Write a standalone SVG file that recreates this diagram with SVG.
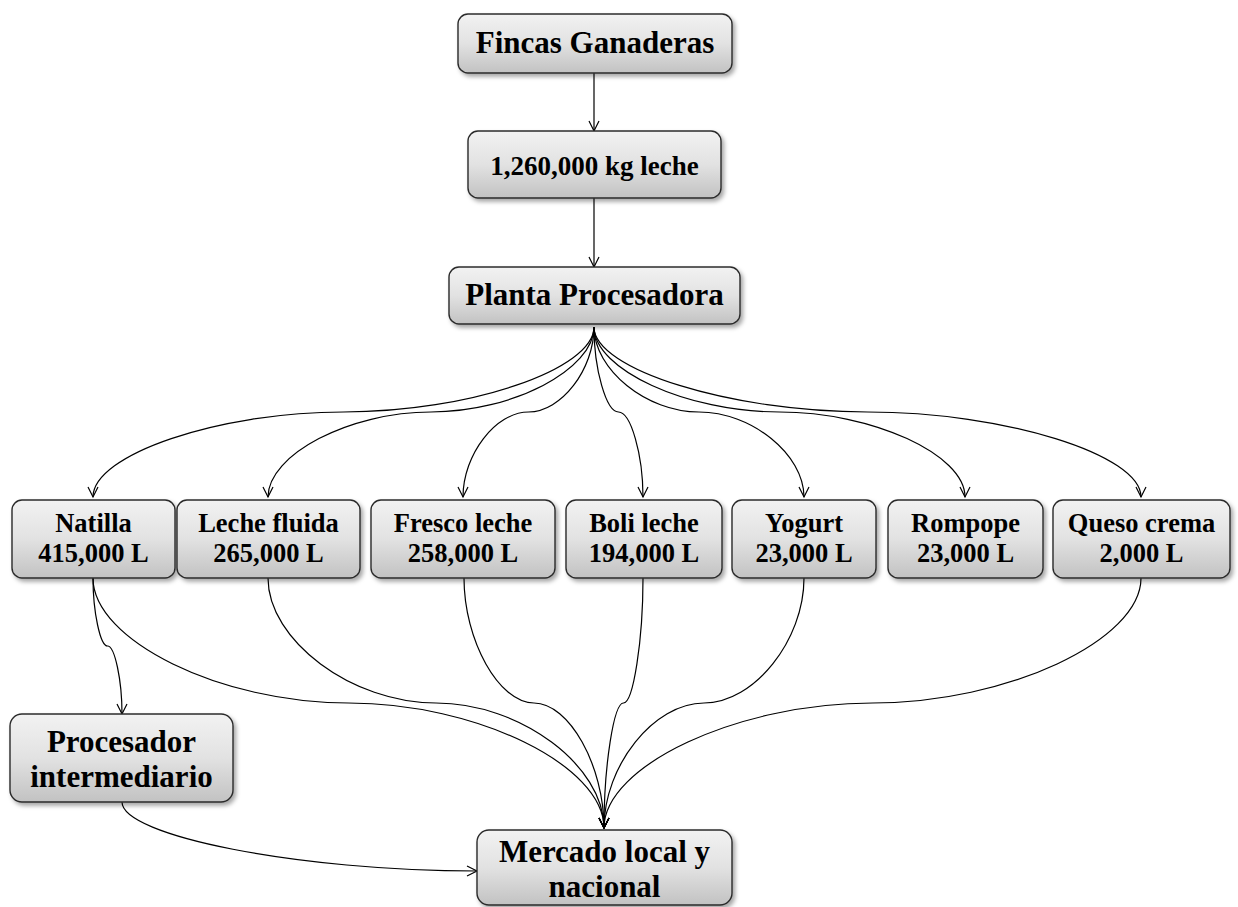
<svg xmlns="http://www.w3.org/2000/svg" width="1238" height="907" viewBox="0 0 1238 907">
  <defs>
    <linearGradient id="boxFill" x1="0" y1="0" x2="0" y2="1">
      <stop offset="0" stop-color="#f2f2f2"/>
      <stop offset="0.5" stop-color="#e2e2e2"/>
      <stop offset="1" stop-color="#c2c2c2"/>
    </linearGradient>
    <filter id="shadow" x="-10%" y="-20%" width="125%" height="150%">
      <feDropShadow dx="2.5" dy="3" stdDeviation="2" flood-color="#000" flood-opacity="0.35"/>
    </filter>
    <marker id="arrow" markerUnits="userSpaceOnUse" markerWidth="14" markerHeight="14" viewBox="-12 -7 14 14" refX="0" refY="0" orient="auto">
      <path d="M-10,-5 L0,0 L-10,5" fill="none" stroke="#000" stroke-width="1.2"/>
    </marker>
  </defs>
  <style>
    .box { fill: url(#boxFill); stroke: #2b2b2b; stroke-width: 1.4; filter: url(#shadow); }
    .big { font-family: "Liberation Serif", "Times New Roman", serif; font-weight: bold; font-size: 31px; text-anchor: middle; fill: #000; }
    .mid { font-family: "Liberation Serif", "Times New Roman", serif; font-weight: bold; font-size: 27px; text-anchor: middle; fill: #000; }
    .small { font-family: "Liberation Serif", "Times New Roman", serif; font-weight: bold; font-size: 26.5px; text-anchor: middle; fill: #000; }
    .link { fill: none; stroke: #000; stroke-width: 1.2; marker-end: url(#arrow); }
  </style>

  <rect width="1238" height="907" fill="#fff"/>

  <!-- connectors -->
  <g id="connectors">
    <path class="link" d="M594,73 L594,131"/>
    <path class="link" d="M594,198 L594,267"/>

    <!-- processing plant to each product -->
    <path class="link" d="M594,327 C594,369.5 468.75,412 343.5,412 C218.25,412 93,454.5 93,497"/>
    <path class="link" d="M594,327 C594,369.5 512.5,412 431,412 C349.5,412 268,454.5 268,497"/>
    <path class="link" d="M594,327 C594,369.5 561.25,412 528.5,412 C495.75,412 463,454.5 463,497"/>
    <path class="link" d="M594,327 C594,369.5 606.25,412 618.5,412 C630.75,412 643,454.5 643,497"/>
    <path class="link" d="M594,327 C594,369.5 646.5,412 699,412 C751.5,412 804,454.5 804,497"/>
    <path class="link" d="M594,327 C594,369.5 686.75,412 779.5,412 C872.25,412 965,454.5 965,497"/>
    <path class="link" d="M594,327 C594,369.5 730.75,412 867.5,412 C1004.25,412 1141,454.5 1141,497"/>

    <!-- products to market -->
    <path class="link" d="M93,578 C93,640.5 220.75,703 348.5,703 C476.25,703 604,765.5 604,828"/>
    <path class="link" d="M268,578 C268,640.5 352,703 436,703 C520,703 604,765.5 604,828"/>
    <path class="link" d="M464,578 C464,640.5 499,703 534,703 C569,703 604,765.5 604,828"/>
    <path class="link" d="M643,578 C643,640.5 633.25,703 623.5,703 C613.75,703 604,765.5 604,828"/>
    <path class="link" d="M804,578 C804,640.5 754,703 704,703 C654,703 604,765.5 604,828"/>
    <path class="link" d="M1141,578 C1141,640.5 1006.75,703 872.5,703 C738.25,703 604,765.5 604,828"/>

    <!-- natilla via intermediate processor -->
    <path class="link" d="M93,578 C93,612 100.25,646 107.5,646 C114.75,646 122,680 122,714"/>
    <path class="link" d="M122,802 C122,836 299.5,871 477,871"/>
  </g>

  <!-- nodes -->
  <g id="fincas">
    <rect class="box" x="458" y="14" width="274" height="59" rx="10"/>
    <text class="big" x="595" y="53">Fincas Ganaderas</text>
  </g>
  <g id="leche-total">
    <rect class="box" x="468" y="131" width="253" height="67" rx="10"/>
    <text class="mid" x="594.5" y="175">1,260,000 kg leche</text>
  </g>
  <g id="planta">
    <rect class="box" x="449" y="267" width="291" height="57" rx="10"/>
    <text class="big" x="594.5" y="305">Planta Procesadora</text>
  </g>

  <g id="natilla">
    <rect class="box" x="12" y="500" width="163" height="78" rx="10"/>
    <text class="small" x="93.5" y="532">Natilla</text>
    <text class="small" x="93.5" y="562">415,000 L</text>
  </g>
  <g id="leche-fluida">
    <rect class="box" x="177" y="500" width="183" height="78" rx="10"/>
    <text class="small" x="268.5" y="532">Leche fluida</text>
    <text class="small" x="268.5" y="562">265,000 L</text>
  </g>
  <g id="fresco-leche">
    <rect class="box" x="371" y="500" width="184" height="78" rx="10"/>
    <text class="small" x="463" y="532">Fresco leche</text>
    <text class="small" x="463" y="562">258,000 L</text>
  </g>
  <g id="boli-leche">
    <rect class="box" x="566" y="500" width="156" height="78" rx="10"/>
    <text class="small" x="644" y="532">Boli leche</text>
    <text class="small" x="644" y="562">194,000 L</text>
  </g>
  <g id="yogurt">
    <rect class="box" x="732" y="500" width="144" height="78" rx="10"/>
    <text class="small" x="804" y="532">Yogurt</text>
    <text class="small" x="804" y="562">23,000 L</text>
  </g>
  <g id="rompope">
    <rect class="box" x="888" y="500" width="155" height="78" rx="10"/>
    <text class="small" x="965.5" y="532">Rompope</text>
    <text class="small" x="965.5" y="562">23,000 L</text>
  </g>
  <g id="queso-crema">
    <rect class="box" x="1053" y="500" width="177" height="78" rx="10"/>
    <text class="small" x="1141.5" y="532">Queso crema</text>
    <text class="small" x="1141.5" y="562">2,000 L</text>
  </g>

  <g id="procesador">
    <rect class="box" x="10" y="714" width="223" height="88" rx="12"/>
    <text class="big" x="121.5" y="752">Procesador</text>
    <text class="big" x="121.5" y="787">intermediario</text>
  </g>
  <g id="mercado">
    <rect class="box" x="477" y="830" width="255" height="75" rx="12"/>
    <text class="big" x="604.5" y="862">Mercado local y</text>
    <text class="big" x="604.5" y="897">nacional</text>
  </g>
</svg>
